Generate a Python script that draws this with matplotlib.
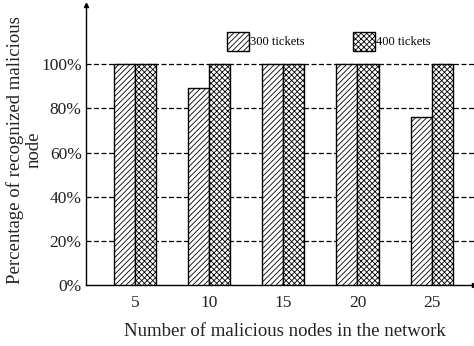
import matplotlib
matplotlib.use("Agg")
import matplotlib.pyplot as plt
import numpy as np

categories = ["5", "10", "15", "20", "25"]
tickets_300 = [100, 89, 100, 100, 76]
tickets_400 = [100, 100, 100, 100, 100]
series_labels = ["300 tickets", "400 tickets"]
ytick_vals = [0, 20, 40, 60, 80, 100]
ytick_labels = ["0%", "20%", "40%", "60%", "80%", "100%"]

plt.rcParams['font.family'] = ['Liberation Serif', 'DejaVu Serif']
plt.rcParams['hatch.linewidth'] = 0.6
plt.rcParams['hatch.color'] = '#333333'

fig = plt.figure(figsize=(4.74, 3.46), dpi=100)
ax = fig.add_axes([0.181, 0.176, 0.819, 0.809])

x = np.arange(len(categories))
w = 0.285
ax.bar(x - w/2, tickets_300, w, facecolor='white', edgecolor='black',
       hatch='//////', linewidth=1.0, zorder=3, label=series_labels[0])
ax.bar(x + w/2, tickets_400, w, facecolor='white', edgecolor='black',
       hatch='xxxxxx', linewidth=1.0, zorder=3, label=series_labels[1])

ax.set_xlim(-0.66, 4.57)
ax.set_ylim(0, 126.7)
ax.set_xticks(x)
ax.set_xticklabels(categories)
ax.set_yticks(ytick_vals)
ax.set_yticklabels(ytick_labels)
ax.tick_params(axis='both', length=0, labelsize=12.5, pad=3, labelcolor='#222222')
ax.tick_params(axis='x', pad=7)

for v in ytick_vals[1:]:
    ax.axhline(v, color='black', linestyle=(0, (4, 2)), linewidth=0.9, zorder=1)

for s in ['top', 'right']:
    ax.spines[s].set_visible(False)
for s in ['left', 'bottom']:
    ax.spines[s].set_linewidth(1.0)

ax.plot(1, 0, ">k", markersize=3, transform=ax.transAxes, clip_on=False)
ax.plot(0, 1, "^k", markersize=3, transform=ax.transAxes, clip_on=False)

ax.set_xlabel("Number of malicious nodes in the network", fontsize=13.5,
              color='#222222')
ax.xaxis.set_label_coords(0.512, -0.135)
ax.set_ylabel("Percentage of recognized malicious\nnode", fontsize=13.5,
              linespacing=1.15, color='#222222', va='center')
ax.yaxis.set_label_coords(-0.158, 0.482)

ax.legend(loc='upper left', bbox_to_anchor=(0.365, 0.905), ncol=2, frameon=False,
          fontsize=9, handlelength=1.75, handleheight=2.0, handletextpad=0.05,
          columnspacing=3.9, borderaxespad=0, borderpad=0)

fig.savefig("out.png", dpi=100)
